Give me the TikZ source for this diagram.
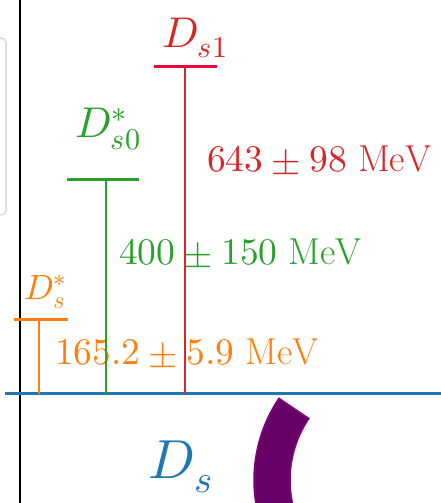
\documentclass[tikz,border=0pt]{standalone}
\usepackage{unicode-math}
\usetikzlibrary{positioning}

\definecolor{tabblue}{RGB}{31,119,180}
\definecolor{taborange}{RGB}{255,127,14}
\definecolor{tabgreen}{RGB}{44,160,44}
\definecolor{tabred}{RGB}{214,39,40}
\definecolor{barred}{RGB}{234,8,60}
\definecolor{arcpurple}{RGB}{128,0,128}
\definecolor{arcfill}{RGB}{102,0,102}

\tikzset{
  level/.style={line width=3pt},
  gap/.style={line width=2.8pt},
  statelabel/.style={font=\fontsize{43}{48}\selectfont,inner sep=0pt},
  masslabel/.style={font=\fontsize{37.5}{42}\selectfont,anchor=west,inner sep=0pt},
}

\begin{document}
\begin{tikzpicture}[x=1pt,y=1pt]

\useasboundingbox (0,0) rectangle (441,503);
\clip (0,0) rectangle (441,503);

\draw[gray!30,line width=1.5pt,rounded corners=5pt] (-10,288) rectangle (6,465);
\draw[black,line width=2pt] (20,0)--(20,503);

% purple arc
\draw[arcpurple,fill=arcfill,line width=1.5pt]
  (400,23)++(146:146) arc (146:200:146)
  -- ++(20:36) arc (200:146:110) -- cycle;

% ground state
\coordinate (gl) at (5,109);
\coordinate (gr) at (441,109);
\draw[tabblue,level] (gl)--(gr);
\node[statelabel,tabblue,font=\fontsize{55}{60}\selectfont] (ds) at (181,36) {$D_s$};

% D_s^*
\coordinate (bot1) at (39,109);
\coordinate (top1) at (39,183);
\draw[taborange,level] (14,183)--(68,183);
\draw[taborange,gap] (top1)--(bot1);
\node[statelabel,taborange,font=\fontsize{35}{38}\selectfont] (dss) at (45,211) {$D_s^*$};
\node[masslabel,taborange] (m1) at (55,150) {$165.2 \pm 5.9~\mathrm{MeV}$};

% D_s0^*
\coordinate (bot2) at (106,109);
\coordinate (top2) at (106,323);
\draw[tabgreen,level] (67,323)--(139,323);
\draw[tabgreen,gap] (top2)--(bot2);
\node[statelabel,tabgreen] (dso) at (108,374) {$D_{s0}^*$};
\node[masslabel,tabgreen] (m2) at (119,250) {$400 \pm 150~\mathrm{MeV}$};

% D_s1
\coordinate (bot3) at (185,109);
\coordinate (top3) at (185,436);
\draw[barred,level] (154,436)--(217,436);
\draw[tabred,gap] (top3)--(bot3);
\node[statelabel,tabred] (dsa) at (195,465) {$D_{s1}$};
\node[masslabel,tabred] (m3) at (207,343) {$643 \pm 98~\mathrm{MeV}$};

\end{tikzpicture}
\end{document}
